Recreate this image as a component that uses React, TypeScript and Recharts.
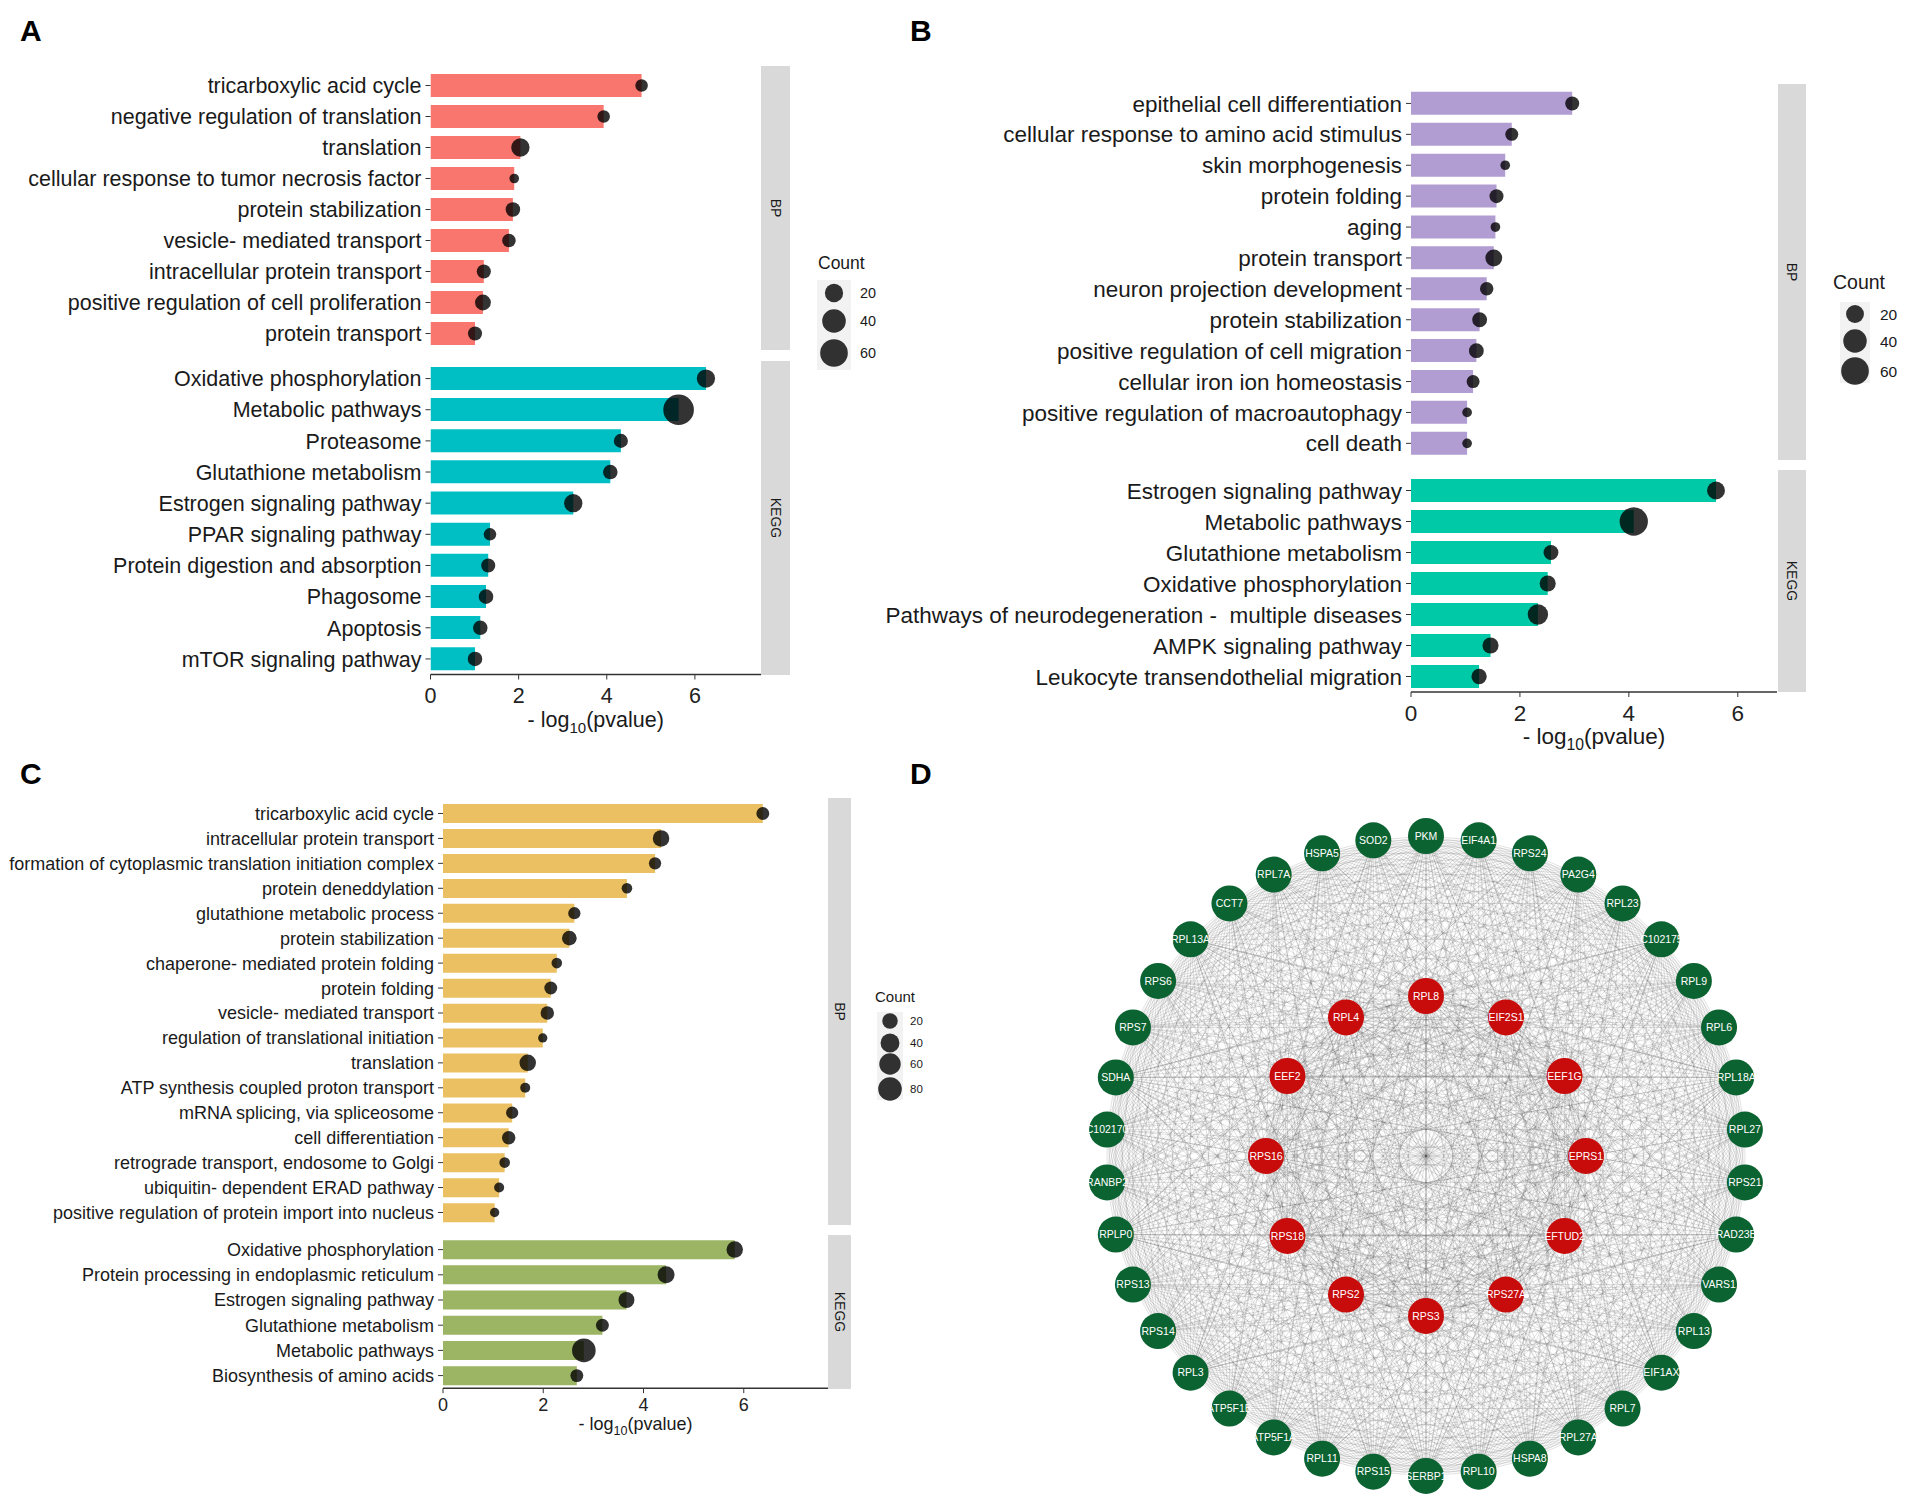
import React from 'react'
import { ComposedChart, Bar, Scatter, Line, XAxis, YAxis, ZAxis } from 'recharts'

const FONT = '"Liberation Sans", Arial, Helvetica, sans-serif'

// ---------- panel A ----------
const aBpTerms = [
  'tricarboxylic acid cycle',
  'negative regulation of translation',
  'translation',
  'cellular response to tumor necrosis factor',
  'protein stabilization',
  'vesicle- mediated transport',
  'intracellular protein transport',
  'positive regulation of cell proliferation',
  'protein transport',
]
const aBpValues = [4.79, 3.93, 2.04, 1.9, 1.87, 1.78, 1.21, 1.19, 1.01]
const aBpCounts = [6, 6, 20, 2, 10, 8, 9, 13, 9]

const aKeggTerms = [
  'Oxidative phosphorylation',
  'Metabolic pathways',
  'Proteasome',
  'Glutathione metabolism',
  'Estrogen signaling pathway',
  'PPAR signaling pathway',
  'Protein digestion and absorption',
  'Phagosome',
  'Apoptosis',
  'mTOR signaling pathway',
]
const aKeggValues = [6.25, 5.63, 4.32, 4.08, 3.24, 1.35, 1.31, 1.26, 1.13, 1.01]
const aKeggCounts = [20, 77, 9, 10, 20, 6, 9, 10, 10, 10]

// ---------- panel B ----------
const bBpTerms = [
  'epithelial cell differentiation',
  'cellular response to amino acid stimulus',
  'skin morphogenesis',
  'protein folding',
  'aging',
  'protein transport',
  'neuron projection development',
  'protein stabilization',
  'positive regulation of cell migration',
  'cellular iron ion homeostasis',
  'positive regulation of macroautophagy',
  'cell death',
]
const bBpValues = [2.96, 1.85, 1.73, 1.57, 1.55, 1.52, 1.39, 1.26, 1.2, 1.14, 1.03, 1.03]
const bBpCounts = [10, 8, 3, 10, 3, 17, 9, 12, 12, 8, 3, 3]

const bKeggTerms = [
  'Estrogen signaling pathway',
  'Metabolic pathways',
  'Glutathione metabolism',
  'Oxidative phosphorylation',
  'Pathways of neurodegeneration -  multiple diseases',
  'AMPK signaling pathway',
  'Leukocyte transendothelial migration',
]
const bKeggValues = [5.6, 4.09, 2.57, 2.51, 2.33, 1.46, 1.25]
const bKeggCounts = [20, 63, 12, 15, 28, 15, 13]

// ---------- panel C ----------
const cBpTerms = [
  'tricarboxylic acid cycle',
  'intracellular protein transport',
  'formation of cytoplasmic translation initiation complex',
  'protein deneddylation',
  'glutathione metabolic process',
  'protein stabilization',
  'chaperone- mediated protein folding',
  'protein folding',
  'vesicle- mediated transport',
  'regulation of translational initiation',
  'translation',
  'ATP synthesis coupled proton transport',
  'mRNA splicing, via spliceosome',
  'cell differentiation',
  'retrograde transport, endosome to Golgi',
  'ubiquitin- dependent ERAD pathway',
  'positive regulation of protein import into nucleus',
]
const cBpValues = [6.38, 4.35, 4.23, 3.67, 2.62, 2.52, 2.27, 2.15, 2.08, 1.99, 1.69, 1.64, 1.38, 1.31, 1.23, 1.12, 1.03]
const cBpCounts = [9, 25, 7, 3, 7, 16, 3, 9, 11, 1, 25, 2, 7, 11, 3, 2, 1]

const cKeggTerms = [
  'Oxidative phosphorylation',
  'Protein processing in endoplasmic reticulum',
  'Estrogen signaling pathway',
  'Glutathione metabolism',
  'Metabolic pathways',
  'Biosynthesis of amino acids',
]
const cKeggValues = [5.82, 4.45, 3.66, 3.18, 2.81, 2.67]
const cKeggCounts = [25, 28, 22, 9, 80, 9]

const xTicks = [0, 2, 4, 6]
const abLegendBreaks = [20, 40, 60]
const cLegendBreaks = [20, 40, 60, 80]

// ---------- panel D (network) ----------
const hubGenes = ['RPL8', 'EIF2S1', 'EEF1G', 'EPRS1', 'EFTUD2', 'RPS27A', 'RPS3', 'RPS2', 'RPS18', 'RPS16', 'EEF2', 'RPL4']
const ringGenes = [
  'PKM', 'EIF4A1', 'RPS24', 'PA2G4', 'RPL23', 'C102175', 'RPL9', 'RPL6', 'RPL18A', 'RPL27',
  'RPS21', 'RAD23B', 'VARS1', 'RPL13', 'EIF1AX', 'RPL7', 'RPL27A', 'HSPA8', 'RPL10', 'SERBP1',
  'RPS15', 'RPL11', 'ATP5F1A', 'ATP5F1B', 'RPL3', 'RPS14', 'RPS13', 'RPLP0', 'RANBP2', 'C102170',
  'SDHA', 'RPS7', 'RPS6', 'RPL13A', 'CCT7', 'RPL7A', 'HSPA5', 'SOD2',
]

type Row = { term: string; value: number; count: number }
const rows = (terms: string[], values: number[], counts: number[]): Row[] =>
  terms.map((term, i) => ({ term, value: values[i], count: counts[i] }))

// circular layout (angles clockwise from the top)
const ring = (names: string[], r: number) =>
  names.map((name, i) => {
    const a = (i / names.length) * Math.PI * 2
    return { name, x: r * Math.sin(a), y: r * Math.cos(a) }
  })
const hubNodes = ring(hubGenes, 0.5)
const ringNodes = ring(ringGenes, 1)
const allNodes = [...hubNodes, ...ringNodes]
// the interaction mesh: every gene pair, grouped by source gene
const edgeGroups = allNodes.slice(0, -1).map((src, i) => {
  const pts: { x: number | null; y: number | null }[] = []
  allNodes.slice(i + 1).forEach((dst) => {
    pts.push({ x: src.x, y: src.y }, { x: dst.x, y: dst.y }, { x: null, y: null })
  })
  return pts
})

const diam = (v: number, range: number[]) => range[0] + (range[1] - range[0]) * Math.sqrt(v / 80)

const CatTick = (p: any) => (
  <text x={p.x} y={p.y} dy="0.36em" textAnchor="end" fontSize={p.fs} fill="#1a1a1a" style={{ whiteSpace: 'pre' }}>
    {p.payload.value}
  </text>
)

const AxisTitle = (p: any) => {
  const { x, y, width } = p.viewBox
  const fs = p.fs
  return (
    <text x={x + width / 2} y={y + p.off} textAnchor="middle" fontSize={fs} fill="#1a1a1a">
      - log
      <tspan fontSize={fs * 0.7} dy={fs * 0.28}>10</tspan>
      <tspan dy={-fs * 0.28}>(pvalue)</tspan>
    </text>
  )
}

const Dot = (p: any) => <circle cx={p.cx} cy={p.cy} r={p.size / 2} fill="#000" fillOpacity={0.8} />

type FacetProps = {
  data: Row[]
  color: string
  left: number
  top: number
  yw: number
  pw: number
  band: number
  xMax: number
  fs: number
  zRange: number[]
  axisH?: number
  tickMargin?: number
  titleOff?: number
}

function Facet({ data, color, left, top, yw, pw, band, xMax, fs, zRange, axisH = 0, tickMargin = 8, titleOff = 50 }: FacetProps) {
  const ph = data.length * band
  const showAxis = axisH > 0
  return (
    <div style={{ position: 'absolute', left, top }}>
      <ComposedChart
        width={yw + pw}
        height={ph + axisH}
        data={data}
        layout="vertical"
        margin={{ top: 0, right: 0, bottom: 0, left: 0 }}
        barCategoryGap="12.5%"
      >
        <XAxis
          type="number"
          domain={[0, xMax]}
          ticks={xTicks}
          allowDataOverflow
          hide={!showAxis}
          height={axisH}
          axisLine={{ stroke: '#333', strokeWidth: 1.6 }}
          tickLine={{ stroke: '#333' }}
          tickSize={5}
          tickMargin={tickMargin}
          tick={{ fontSize: fs, fill: '#222' }}
          label={showAxis ? <AxisTitle fs={fs} off={titleOff} /> : undefined}
        />
        <YAxis
          type="category"
          dataKey="term"
          width={yw}
          axisLine={false}
          tickLine={{ stroke: '#333' }}
          tickSize={5}
          tickMargin={4}
          interval={0}
          tick={<CatTick fs={fs} />}
        />
        <ZAxis type="number" dataKey="count" domain={[0, 80]} range={zRange} scale="sqrt" />
        <Bar dataKey="value" fill={color} isAnimationActive={false} />
        <Scatter dataKey="value" shape={Dot} isAnimationActive={false} />
      </ComposedChart>
    </div>
  )
}

function Strip({ x, y, w, h, label }: { x: number; y: number; w: number; h: number; label: string }) {
  return (
    <g>
      <rect x={x} y={y} width={w} height={h} fill="#D9D9D9" />
      <text
        transform={`translate(${x + w / 2},${y + h / 2}) rotate(90)`}
        textAnchor="middle"
        dy="0.35em"
        fontSize={14}
        fill="#1a1a1a"
      >
        {label}
      </text>
    </g>
  )
}

type LegendProps = {
  tx: number
  ty: number
  tfs: number
  bx: number
  by: number
  bw: number
  bh: number
  cys: number[]
  breaks: number[]
  lx: number
  lfs: number
  range: number[]
}

function SizeLegend({ tx, ty, tfs, bx, by, bw, bh, cys, breaks, lx, lfs, range }: LegendProps) {
  return (
    <g>
      <text x={tx} y={ty} dy="0.36em" fontSize={tfs} fill="#1a1a1a">Count</text>
      <rect x={bx} y={by} width={bw} height={bh} fill="#F2F2F2" />
      {breaks.map((b, i) => (
        <g key={b}>
          <circle cx={bx + bw / 2} cy={cys[i]} r={diam(b, range) / 2} fill="#000" fillOpacity={0.8} />
          <text x={lx} y={cys[i]} dy="0.36em" fontSize={lfs} fill="#1a1a1a">{b}</text>
        </g>
      ))}
    </g>
  )
}

const NodeShape = (p: any) => (
  <g>
    <circle cx={p.cx} cy={p.cy} r={18} fill={p.color} />
    <text x={p.cx} y={p.cy} dy="0.35em" textAnchor="middle" fontSize={10.5} fill="#fff">
      {p.payload.name}
    </text>
  </g>
)

const aRange = [5.5, 31.1]
const bRange = [4.5, 31.3]
const cRange = [7.5, 23.6]

export default function App() {
  return (
    <div style={{ position: 'absolute', left: 0, top: 0, width: 1907, height: 1501, background: '#fff', fontFamily: FONT }}>
      <svg width={1907} height={1501} style={{ position: 'absolute', left: 0, top: 0 }}>
        <g fontWeight="bold" fontSize={30} fill="#000">
          <text x={20} y={41}>A</text>
          <text x={910} y={41}>B</text>
          <text x={20} y={784}>C</text>
          <text x={910} y={784}>D</text>
        </g>
        <Strip x={761} y={66} w={29} h={284} label="BP" />
        <Strip x={761} y={361} w={29} h={314} label="KEGG" />
        <Strip x={1778} y={84} w={28} h={376} label="BP" />
        <Strip x={1778} y={470} w={28} h={222} label="KEGG" />
        <Strip x={828} y={798} w={23} h={427} label="BP" />
        <Strip x={828} y={1235} w={23} h={154} label="KEGG" />
        <SizeLegend tx={818} ty={263} tfs={17.5} bx={817} by={280} bw={34} bh={90} cys={[293, 321, 353]} breaks={abLegendBreaks} lx={860} lfs={14.4} range={aRange} />
        <SizeLegend tx={1833} ty={282} tfs={19.5} bx={1840} by={302} bw={30} bh={81} cys={[314, 341, 371]} breaks={abLegendBreaks} lx={1880} lfs={15.5} range={bRange} />
        <SizeLegend tx={875} ty={997} tfs={15} bx={877} by={1012} bw={26} bh={88} cys={[1021, 1043, 1064, 1089]} breaks={cLegendBreaks} lx={910} lfs={11.5} range={cRange} />
      </svg>

      <Facet data={rows(aBpTerms, aBpValues, aBpCounts)} color="#F8766D" left={0} top={69.8} yw={430.5} pw={330.5} band={31} xMax={7.5} fs={21.5} zRange={aRange} />
      <Facet data={rows(aKeggTerms, aKeggValues, aKeggCounts)} color="#00BFC4" left={0} top={363.4} yw={430.5} pw={330.5} band={31.15} xMax={7.5} fs={21.5} zRange={aRange} axisH={65} tickMargin={8} titleOff={52.5} />

      <Facet data={rows(bBpTerms, bBpValues, bBpCounts)} color="#B29DD2" left={880} top={87.55} yw={531} pw={366} band={30.9} xMax={6.72} fs={22.5} zRange={bRange} />
      <Facet data={rows(bKeggTerms, bKeggValues, bKeggCounts)} color="#00C9A7" left={880} top={474.5} yw={531} pw={366} band={31} xMax={6.72} fs={22.5} zRange={bRange} axisH={65} tickMargin={8} titleOff={52} />

      <Facet data={rows(cBpTerms, cBpValues, cBpCounts)} color="#EBC062" left={0} top={800.5} yw={443} pw={385} band={24.94} xMax={7.68} fs={18} zRange={cRange} />
      <Facet data={rows(cKeggTerms, cKeggValues, cKeggCounts)} color="#9BB564" left={0} top={1237.4} yw={443} pw={385} band={25.2} xMax={7.68} fs={18} zRange={cRange} axisH={50} tickMargin={4.6} titleOff={41.5} />

      <div style={{ position: 'absolute', left: 1074, top: 804 }}>
        <ComposedChart width={704} height={694.4} margin={{ top: 0, right: 0, bottom: 0, left: 0 }}>
          <XAxis type="number" dataKey="x" domain={[-1.1, 1.1]} allowDataOverflow hide />
          <YAxis type="number" domain={[-1.07, 1.1]} allowDataOverflow hide />
          {edgeGroups.map((pts, i) => (
            <Line
              key={i}
              data={pts}
              dataKey="y"
              stroke="#4d4d4d"
              strokeOpacity={0.23}
              strokeWidth={0.7}
              dot={false}
              activeDot={false}
              connectNulls={false}
              isAnimationActive={false}
            />
          ))}
          <Scatter data={ringNodes} dataKey="y" shape={<NodeShape color="#0C6332" />} isAnimationActive={false} />
          <Scatter data={hubNodes} dataKey="y" shape={<NodeShape color="#C80C0C" />} isAnimationActive={false} />
        </ComposedChart>
      </div>
    </div>
  )
}
